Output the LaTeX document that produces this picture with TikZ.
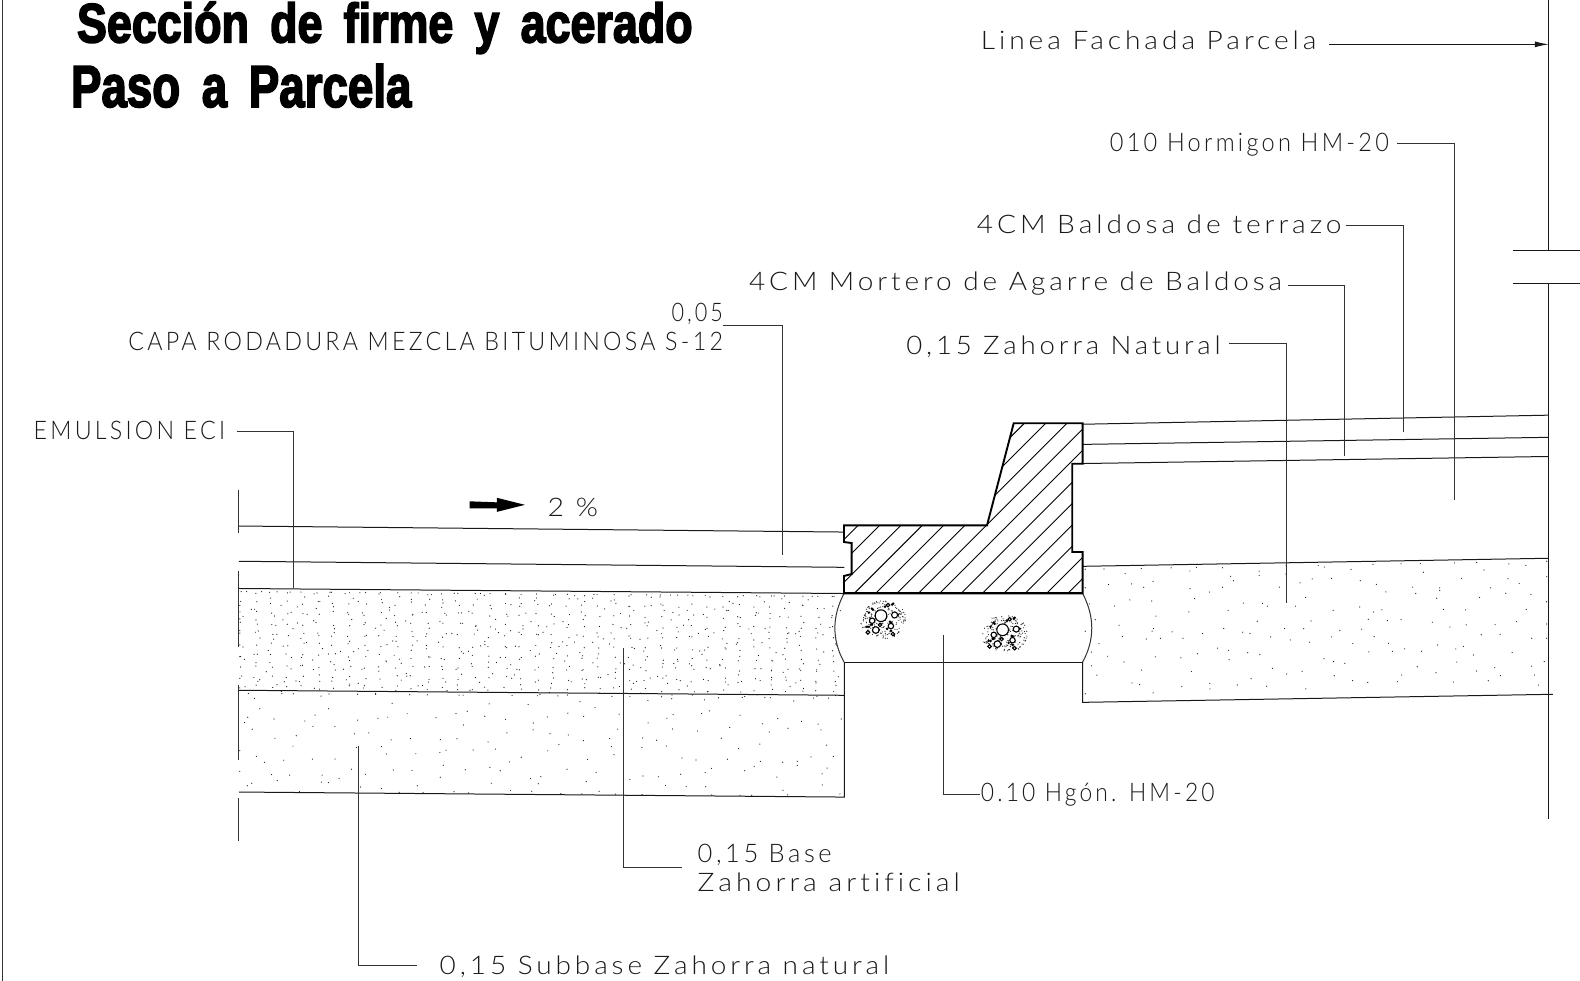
\documentclass[tikz,border=0pt]{standalone}
\usepackage{fontspec}
\usepackage{graphicx}
\usetikzlibrary{arrows.meta}
\newfontfamily\cad{Lato}[UprightFont=* Light,LetterSpace=14,Ligatures=NoCommon]
\newfontfamily\ttl{Liberation Sans}[UprightFont=* Bold,FakeBold=3.2,WordSpace=1.7]
\newdimen\pxu \pxu=0.50383pt
\newcommand\cadfit[2]{\resizebox{#1\pxu}{\height}{\fontsize{12.8}{14}\cad #2}}
\newcommand\ttlfit[3]{\resizebox{#1\pxu}{\height}{\fontsize{#2}{32}\ttl #3}}
\newcommand\aggr[1]{%
  \begin{scope}[shift={(#1)}]
    \foreach \i in {1,...,190}{
      \pgfmathsetmacro\ra{sqrt(rnd)}
      \pgfmathsetmacro\ta{360*rnd}
      \pgfmathsetmacro\xa{2+23*\ra*cos(\ta)}
      \pgfmathsetmacro\ya{4+19*\ra*sin(\ta)}
      \fill[black!85] (\xa,\ya) circle[radius=0.6];
    }
    \foreach \xb/\yb in {-9/-7,-8/-6,12/-12,11/-11,-10/9,-9/9,9/6,10/7,4/-9,-3/14,-2/14,10/15,-12/-3,-14/11,-12/11,17/-1,6/13}{
      \fill (\xb,\yb) circle[radius=1.4];
    }
    \foreach \xc/\yc/\rr in {0/0/5.8,13.5/-0.7/3,-8.8/5/2.7,9.8/10.3/2.7,-5.2/14.2/3.3,-13/16.5/1.8,11.8/18.2/1.8,-1/9.2/1.7,6.9/-10.5/1.7}{
      \draw[fill=white,line width=0.55pt] (\xc,\yc) circle[radius=\rr];
    }
  \end{scope}}
\newcommand\gridfill[8]{% x0, width, y0, slope, height, dx, dy, jitter
  \pgfmathsetmacro\nx{int(#2/#6)}
  \pgfmathsetmacro\ny{int(#5/#7)}
  \foreach \ci in {0,...,\nx}{
    \foreach \cj in {0,...,\ny}{
      \pgfmathsetmacro\gx{min(#1+#2,max(#1,#1+#6*\ci+#8*rand))}
      \pgfmathsetmacro\gy{#3+(\gx-#1)*#4+min(#5,max(0,#7*\cj+#8*rand))}
      \fill[black!90] (\gx,\gy) circle[radius=0.6];
    }
  }}
\tikzset{
  x=0.50383pt,y=-0.50383pt,
  thinline/.style={line width=0.5pt,black!90},
  leader/.style={line width=0.5pt,black!80},
  curb/.style={line width=0.95pt,black},
  hatchline/.style={line width=0.45pt,black},
  cadlabel/.style={inner sep=0pt,anchor=base west,text=black!90},
  titlelabel/.style={inner sep=0pt,anchor=base west,text=black}
}
\begin{document}
\begin{tikzpicture}
\useasboundingbox (0,0) rectangle (1568,973.5);
\fill[white] (0,0) rectangle (1568,973.5);

% fill of the layers
\pgfmathsetseed{11}
\gridfill{238}{599}{587}{0.0083}{100}{15.5}{10.5}{2}
\gridfill{238}{599}{587}{0.0083}{100}{15.5}{10.5}{7}
\gridfill{238}{599}{688}{0.0083}{97}{19}{19}{9}
\gridfill{1077}{458}{565}{-0.0174}{125}{19}{19}{10}

% road layers
\coordinate (rA1) at (237,522); \coordinate (rA2) at (838,528);
\coordinate (rB1) at (237,557); \coordinate (rB2) at (838,563);
\coordinate (rC1) at (237,584); \coordinate (rC2) at (838,589);
\coordinate (rD1) at (237,685); \coordinate (rD2) at (838,690);
\coordinate (rE1) at (237,786); \coordinate (rE2) at (838,791);
\draw[thinline] (rA1) -- (rA2);
\draw[thinline] (rB1) -- (rB2);
\draw[thinline] (rC1) -- (rC2);
\draw[thinline] (rD1) -- (rD2);
\draw[thinline] (rE1) -- (rE2) -- (838,657);

% left break line
\draw[leader] (237,486) -- (237,529);
\draw[leader] (237,567) -- (237,642);
\draw[leader] (237,680) -- (237,754);
\draw[leader] (237,792) -- (237,835);

% sidewalk layers
\draw[thinline] (1074.4,421) -- (1537,412);
\draw[thinline] (1074.4,441) -- (1537,434);
\draw[thinline] (1074.4,460) -- (1537,453);
\draw[thinline] (1074.4,562) -- (1537,554);
\draw[thinline] (1074.4,657) -- (1074.4,697) -- (1541,689);

% facade line and break marks
\coordinate (fTop) at (1537,0);
\coordinate (fBrk1) at (1537,249);
\coordinate (fBrk2) at (1537,281);
\coordinate (fBot) at (1537,813);
\draw[thinline] (fTop) -- (fBrk1);
\draw[thinline] (fBrk2) -- (fBot);
\draw[thinline] (1501,249) -- (1568,249);
\draw[thinline] (1501,281) -- (1568,281);

% page border
\draw[leader] (2,0) -- (2,973.5);

% concrete slab
\draw[thinline] (837.6,657) -- (1074.4,657);
\draw[leader] (837.6,589) .. controls (825.5,612) and (825.5,635) .. (837.6,657);
\draw[leader] (1074.4,589) .. controls (1086.5,612) and (1086.5,635) .. (1074.4,657);
\aggr{874.3,611}
\aggr{995,625}

% kerb
\begin{scope}
  \clip (837.6,521.3) -- (979.5,521.3) -- (1006,420) -- (1074.4,420) -- (1074.4,460.2) -- (1064.1,460.2) -- (1064.1,547.8) -- (1074.4,547.8) -- (1074.4,588.8) -- (837.6,588.8) -- (837.6,571.6) -- (845.2,569.6) -- (845.2,538.9) -- (837.6,537.9) -- cycle;
  \foreach \k in {-4,...,11}{
    \draw[hatchline] ({847.8+21.2*\k},588.8) -- ({847.8+21.2*\k+200},388.8);
  }
\end{scope}
\draw[curb,line join=miter] (837.6,521.3) -- (979.5,521.3) -- (1006,420) -- (1074.4,420) -- (1074.4,460.2) -- (1064.1,460.2) -- (1064.1,547.8) -- (1074.4,547.8) -- (1074.4,588.8) -- (837.6,588.8) -- (837.6,571.6) -- (845.2,569.6) -- (845.2,538.9) -- (837.6,537.9) -- cycle;
\draw[line width=1.1pt] (837.6,588.8) -- (1074.4,588.8);

% slope arrow
\fill (466,497.5) -- (493,498.5) -- (493,494) -- (521,501) -- (493,508) -- (493,504.5) -- (466,504.5) -- cycle;

% titles
\node[titlelabel] (tA) at (76,42) {\ttlfit{611}{27.6}{Sección de firme y acerado}};
\node[titlelabel] (tB) at (70,106) {\ttlfit{338}{29.5}{Paso a Parcela}};

% labels
\node[cadlabel] (lLinea) at (973,49) {\cadfit{333}{Linea Fachada Parcela}};
\node[cadlabel] (lHorm) at (1101,150) {\cadfit{277}{010 Hormigon HM-20}};
\node[cadlabel] (lBald) at (969,232) {\cadfit{362}{4CM Baldosa de terrazo}};
\node[cadlabel] (lMort) at (743,288) {\cadfit{529}{4CM Mortero de Agarre de Baldosa}};
\node[cadlabel] (lZahN) at (899,352) {\cadfit{312}{0,15 Zahorra Natural}};
\node[cadlabel] (lCero) at (666,319) {\cadfit{51}{0,05}};
\node[cadlabel] (lCapa) at (127,348) {\cadfit{590}{CAPA RODADURA MEZCLA BITUMINOSA S-12}};
\node[cadlabel] (lEmul) at (33,436) {\cadfit{190}{EMULSION ECI}};
\node[cadlabel] (lPct) at (543,513) {\cadfit{50}{2 \%}};
\node[cadlabel] (lHgon) at (973,795) {\cadfit{232}{0.10 Hgón. HM-20}};
\node[cadlabel] (lBase) at (692,856) {\cadfit{133}{0,15 Base}};
\node[cadlabel] (lArt) at (692,885) {\cadfit{260}{Zahorra artificial}};
\node[cadlabel] (lSub) at (436,967) {\cadfit{446}{0,15 Subbase Zahorra natural}};

% leaders
\coordinate (eHorm) at (1443,496);
\coordinate (eBald) at (1393,429);
\coordinate (eMort) at (1334,453);
\coordinate (eZahN) at (1277,598);
\coordinate (eCero) at (777,551);
\coordinate (eEmul) at (291,584);
\coordinate (eHgon) at (936,630);
\coordinate (eBase) at (619,643);
\coordinate (eSub) at (356,740);
\draw[leader] ([shift={(8,-8)}]lHorm.base east) -- (1443,142) -- (eHorm);
\draw[leader] ([shift={(4,-8)}]lBald.base east) -- (1393,224) -- (eBald);
\draw[leader] ([shift={(5,-5)}]lMort.base east) -- (1334,283) -- (eMort);
\draw[leader] ([shift={(8,-11)}]lZahN.base east) -- (1277,341) -- (eZahN);
\draw[leader] ([shift={(0,4)}]lCero.base east) -- (777,323) -- (eCero);
\draw[leader] ([shift={(11,-8)}]lEmul.base east) -- (291,428) -- (eEmul);
\draw[leader] (lHgon.base west |- 0,788) -- (936,788) -- (eHgon);
\draw[leader] ([shift={(-15,5)}]lBase.base west) -- (619,861) -- (eBase);
\draw[leader] ([shift={(-22,-9)}]lSub.base west) -- (356,958) -- (eSub);
\draw[thinline,-{Latex[length=7pt,width=3pt]}] ([shift={(12,-5)}]lLinea.base east) -- (fTop |- 0,44);
\end{tikzpicture}
\end{document}
